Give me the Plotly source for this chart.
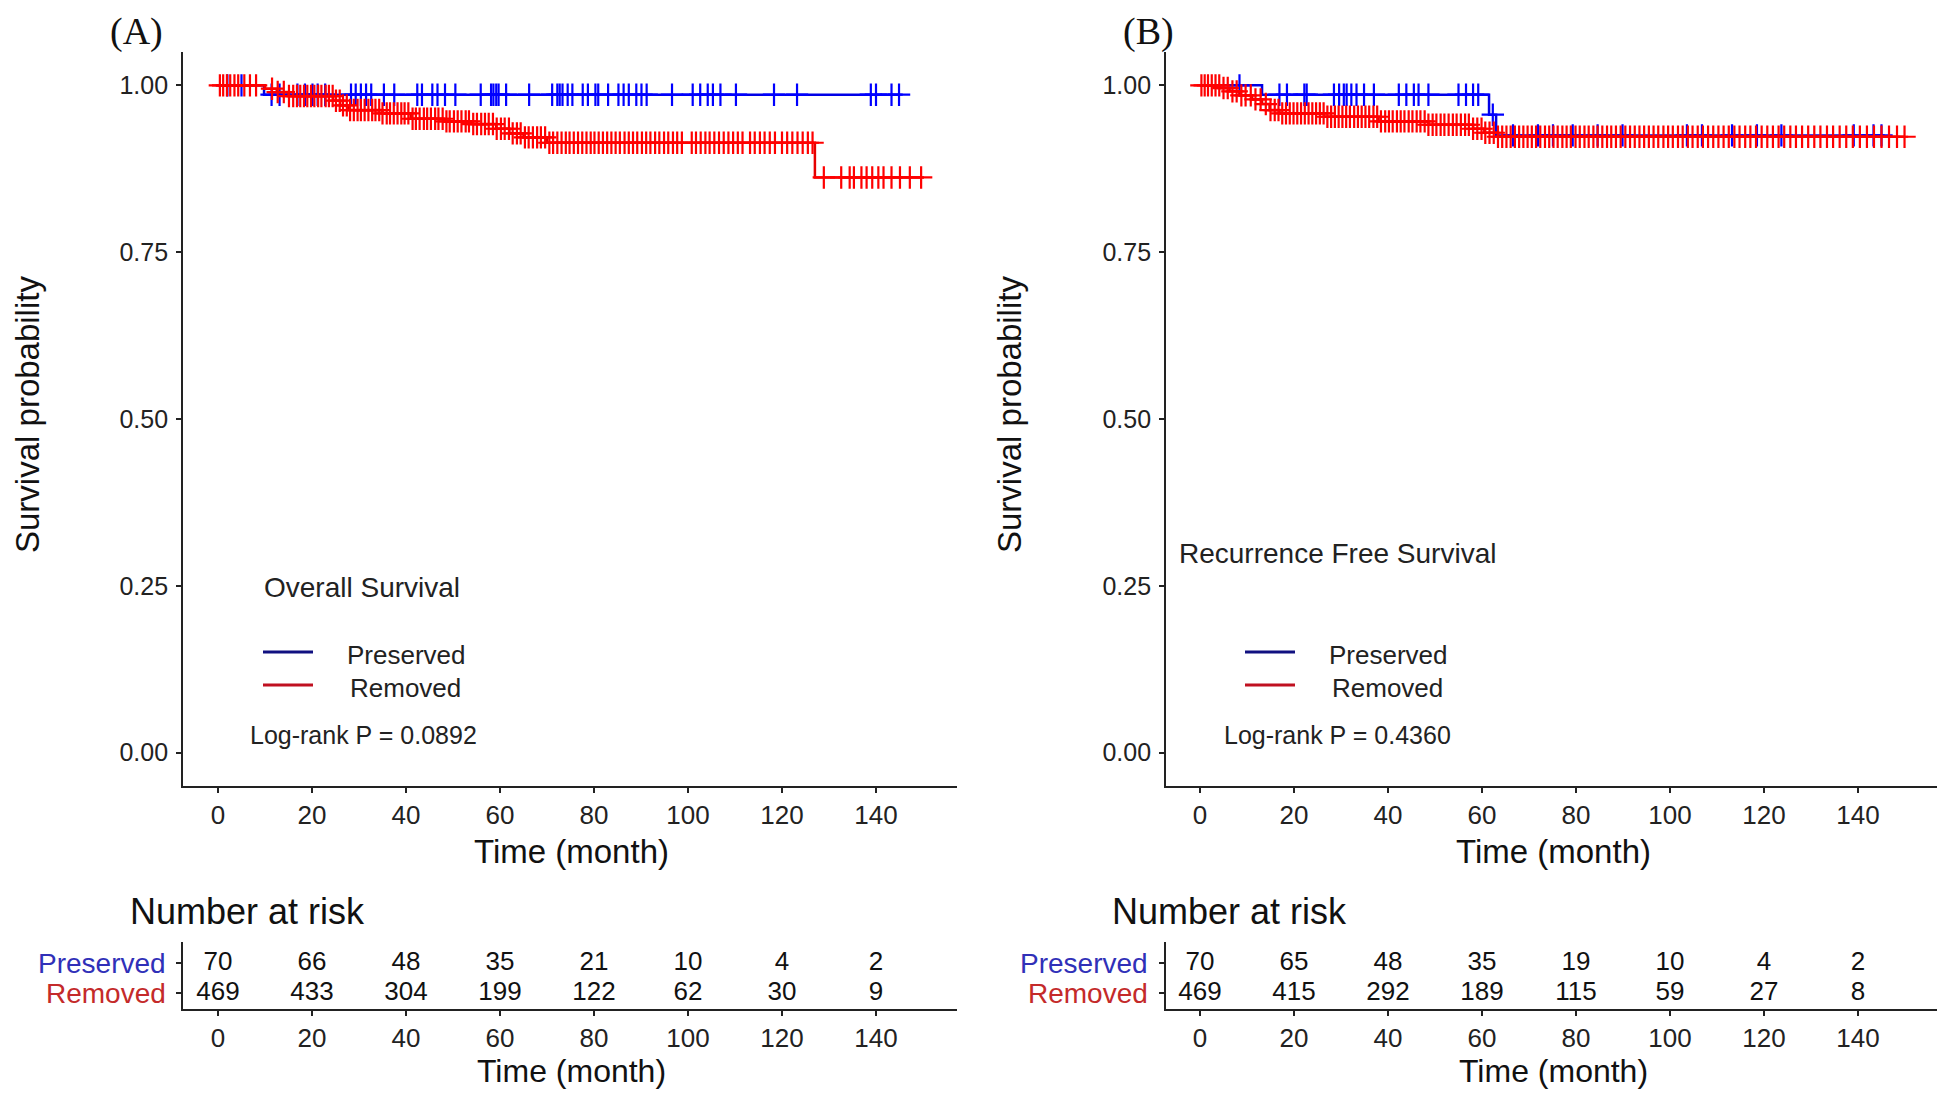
import numpy as np
import plotly.graph_objects as go

W, H = 1946, 1098
FW, FH = W - 16, H - 16   # the page body keeps an 8px margin
FONT = "Liberation Sans, Arial, sans-serif"

# ---------------- data ----------------
time_ticks = [0, 20, 40, 60, 80, 100, 120, 140]
surv_ticks = [0, 0.25, 0.5, 0.75, 1.0]
surv_ticktext = ["0.00", "0.25", "0.50", "0.75", "1.00"]
groups = ["Preserved", "Removed"]

# Panel A - Overall Survival
A_pre_t = [0, 9.8]
A_pre_s = [1.0, 0.986]
A_pre_end = 144.9
A_pre_cens = [2.0, 5.0, 11.4, 13.1, 16.9, 18.5, 20.1, 21.2, 22.8, 28.3, 29.3, 30.4, 31.5,
              32.6, 35.3, 37.5, 42.4, 43.4, 45.6, 46.7, 48.3, 50.5, 55.9, 58.1, 58.6, 59.2,
              59.7, 61.3, 66.2, 71.1, 72.2, 72.7, 73.3, 74.4, 75.4, 77.6, 78.7, 80.3, 80.9,
              83.0, 85.2, 86.3, 87.4, 89.0, 90.1, 91.2, 96.6, 101.0, 102.6, 104.2, 105.3,
              106.9, 110.2, 118.3, 123.2, 138.9, 140.0, 143.3, 144.9]
A_rem_t = [0, 10.0, 12.5, 15.0, 24.5, 26.0, 27.7, 35.0, 41.0, 48.0, 54.0, 59.2, 62.0, 65.0, 70.0, 127.0]
A_rem_s = [1.0, 0.995, 0.990, 0.984, 0.977, 0.970, 0.963, 0.958, 0.950, 0.946, 0.942, 0.935,
           0.928, 0.922, 0.914, 0.862]
A_rem_end = 150.2
A_rem_cens = [0.4, 1.1, 1.9, 2.6, 3.5, 4.3, 5.6, 6.8, 8.1, 11.5, 12.7, 14.0, 15.1, 16.0, 16.8,
              17.5, 18.3, 19.0, 19.8, 20.5, 21.3, 22.0, 22.9, 23.6, 24.4, 25.1, 25.9, 26.6,
              27.4, 28.1, 28.9, 29.7, 30.4, 31.2, 32.0, 32.8, 33.5, 34.3, 35.0, 35.9, 36.6,
              37.4, 38.2, 39.0, 39.7, 40.5, 41.4, 42.1, 42.9, 43.8, 44.5, 45.3, 46.2, 46.9,
              47.8, 48.6, 49.3, 50.2, 51.0, 51.8, 52.7, 53.4, 54.3, 55.1, 56.0, 56.8, 57.6,
              58.5, 59.3, 60.2, 61.0, 61.9, 62.7, 63.6, 64.4, 65.3, 66.1, 67.0, 67.9, 68.7,
              69.6, 70.5, 71.3, 72.2, 73.1, 74.0, 74.8, 75.7, 76.6, 77.5, 78.4, 79.3, 80.1,
              81.0, 81.9, 82.8, 83.7, 84.6, 85.5, 86.5, 87.4, 88.3, 89.2, 90.2, 91.1, 92.0,
              93.0, 93.9, 94.9, 95.8, 96.8, 97.7, 98.7, 100.8, 101.7, 102.7, 103.7, 104.6,
              105.6, 106.6, 107.6, 108.6, 109.6, 110.6, 111.6, 113.2, 114.2, 115.3, 116.3,
              117.4, 118.5, 120.0, 121.1, 122.2, 123.3, 124.4, 125.5, 126.5, 128.9, 132.6,
              134.4, 135.3, 136.9, 138.0, 139.2, 140.5, 141.6, 143.3, 145.1, 147.2, 149.6]
A_risk_pre = [70, 66, 48, 35, 21, 10, 4, 2]
A_risk_rem = [469, 433, 304, 199, 122, 62, 30, 9]
A_title = "Overall Survival"
A_p = "Log-rank P = 0.0892"

# Panel B - Recurrence Free Survival
B_pre_t = [0, 13.2, 61.5, 63.0]
B_pre_s = [1.0, 0.986, 0.956, 0.925]
B_pre_end = 145.0
B_pre_cens = [8.4, 16.9, 18.5, 22.2, 22.7, 28.5, 29.6, 30.6, 31.2, 32.2, 33.3, 34.9, 37.0,
              42.3, 43.9, 45.5, 46.5, 48.6, 55.0, 56.6, 58.1, 59.2, 62.3, 66.6, 71.9, 75.1,
              79.3, 84.6, 89.9, 103.6, 106.8, 113.2, 118.5, 123.7, 139.1, 143.3, 145.0]
B_rem_t = [0, 4.2, 6.3, 8.4, 11.1, 13.2, 14.8, 16.9, 26.4, 38.0, 48.6, 58.1, 60.5, 63.4]
B_rem_s = [1.0, 0.996, 0.991, 0.985, 0.979, 0.972, 0.963, 0.958, 0.953, 0.946, 0.941, 0.935,
           0.929, 0.923]
B_rem_end = 150.0
B_rem_cens = [0.3, 1.0, 1.7, 2.5, 3.3, 4.1, 5.0, 5.9, 6.9, 7.8, 8.8, 9.7, 10.8, 11.8, 12.9,
              14.0, 15.0, 15.9, 16.7, 17.5, 18.3, 19.1, 19.9, 20.7, 21.5, 22.3, 23.1, 23.9,
              24.7, 25.5, 26.3, 27.1, 27.9, 28.7, 29.5, 30.3, 31.1, 31.9, 32.8, 33.6, 34.4,
              35.2, 36.0, 36.9, 37.7, 38.5, 39.4, 40.2, 41.0, 41.9, 42.7, 43.5, 44.4, 45.2,
              46.1, 46.9, 47.8, 48.6, 49.5, 50.3, 51.2, 52.0, 52.9, 53.8, 54.6, 55.5, 56.4,
              57.2, 58.1, 59.0, 59.9, 60.7, 61.6, 62.5, 63.4, 64.3, 65.2, 66.1, 67.0, 67.9,
              68.8, 69.7, 70.6, 71.5, 72.4, 73.4, 74.3, 75.2, 76.1, 77.1, 78.0, 78.9, 79.9,
              80.8, 81.8, 82.7, 83.7, 84.6, 85.6, 86.6, 87.5, 88.5, 89.5, 90.5, 91.5, 92.5,
              93.5, 94.5, 95.5, 96.5, 97.5, 98.6, 99.6, 100.6, 101.7, 102.7, 103.8, 104.8,
              105.9, 107.0, 108.1, 109.2, 110.3, 111.4, 112.5, 113.7, 114.8, 116.0, 117.1,
              118.3, 119.5, 120.7, 121.9, 123.1, 124.3, 125.6, 126.8, 128.1, 129.4, 130.7,
              132.0, 133.4, 134.7, 136.1, 137.5, 138.9, 140.4, 141.9, 143.4, 145.0, 146.6,
              148.3, 149.9]
B_risk_pre = [70, 65, 48, 35, 19, 10, 4, 2]
B_risk_rem = [469, 415, 292, 189, 115, 59, 27, 8]
B_title = "Recurrence Free Survival"
B_p = "Log-rank P = 0.4360"

# ---------------- styling ----------------
BLUE_LINE, BLUE_MARK = "#0000E6", "#0000FF"
RED_LINE, RED_MARK = "#E60000", "#FF0000"
LEG_BLUE, LEG_RED = "#101080", "#C01020"
LAB_BLUE, LAB_RED = "#3030B8", "#C42A2A"


def px(x):
    return min(max((x - 8) / FW, 0.0), 1.0)


def py(y):
    return min(max(1 - (y - 8) / FH, 0.0), 1.0)


def step_at(t_list, s_list, t):
    idx = np.searchsorted(np.array(t_list), np.array(t), side="right") - 1
    return np.array(s_list)[idx]


def note(x, y, text, size, color="#111", xanchor="center", family=FONT, angle=0):
    return dict(x=px(x), y=py(y), xref="paper", yref="paper", text=text, showarrow=False,
                xanchor=xanchor, yanchor="middle", textangle=angle,
                font=dict(family=family, size=size, color=color))


fig = go.Figure()

panels = [
    dict(ax="", pre=(A_pre_t, A_pre_s, A_pre_end, A_pre_cens),
         rem=(A_rem_t, A_rem_s, A_rem_end, A_rem_cens),
         risk=(A_risk_pre, A_risk_rem), x0=183, x1=957, zero=218, title=A_title, p=A_p,
         letter="(A)", letter_x=136, title_pos=(262, 587), leg_x=263, plab_x=345, p_x=248),
    dict(ax="2", pre=(B_pre_t, B_pre_s, B_pre_end, B_pre_cens),
         rem=(B_rem_t, B_rem_s, B_rem_end, B_rem_cens),
         risk=(B_risk_pre, B_risk_rem), x0=1166, x1=1937, zero=1200, title=B_title, p=B_p,
         letter="(B)", letter_x=1148, title_pos=(1177, 553), leg_x=1245, plab_x=1327, p_x=1222),
]

annotations = []
shapes = []
layout_axes = {}

for i, P in enumerate(panels):
    xa = "x" + P["ax"]
    ya = "y" + P["ax"]
    xr = "x" + str(3 + i)
    yr = "y" + str(3 + i)
    for (tt, ss, end, cens), lc, mc in [(P["pre"], BLUE_LINE, BLUE_MARK), (P["rem"], RED_LINE, RED_MARK)]:
        fig.add_trace(go.Scatter(x=list(tt) + [end], y=list(ss) + [ss[-1]], mode="lines",
                                 line=dict(color=lc, width=2.5, shape="hv"),
                                 xaxis=xa, yaxis=ya, showlegend=False, hoverinfo="skip"))
        fig.add_trace(go.Scatter(x=cens, y=step_at(tt, ss, cens), mode="markers",
                                 marker=dict(symbol="cross-thin", size=16, color=mc,
                                             line=dict(color=mc, width=2.2)),
                                 xaxis=xa, yaxis=ya, showlegend=False, hoverinfo="skip"))
    # risk table numbers
    rp, rr = P["risk"]
    fig.add_trace(go.Scatter(x=time_ticks, y=[2] * len(time_ticks), text=[str(v) for v in rp],
                             mode="text", textfont=dict(family=FONT, size=26, color="#111"),
                             xaxis=xr, yaxis=yr, showlegend=False, hoverinfo="skip"))
    fig.add_trace(go.Scatter(x=time_ticks, y=[1] * len(time_ticks), text=[str(v) for v in rr],
                             mode="text", textfont=dict(family=FONT, size=26, color="#111"),
                             xaxis=xr, yaxis=yr, showlegend=False, hoverinfo="skip"))

    dom = [px(P["x0"]), px(P["x1"])]
    rng_lo = (P["x0"] - P["zero"]) / 4.7
    rng_hi = (P["x1"] - P["zero"]) / 4.7
    common_x = dict(domain=dom, range=[rng_lo, rng_hi], tickvals=time_ticks, ticks="outside",
                    ticklen=5, tickwidth=1.5, tickcolor="#222", showline=True, linecolor="#222",
                    linewidth=1.8, showgrid=False, zeroline=False,
                    tickfont=dict(family=FONT, size=26, color="#222"), ticklabelstandoff=0)
    layout_axes["xaxis" + P["ax"]] = dict(common_x, anchor=ya)
    layout_axes["yaxis" + P["ax"]] = dict(domain=[py(786), py(52)], range=[-0.05, 1.05], tickvals=surv_ticks,
                                          ticktext=surv_ticktext, ticks="outside", ticklen=5, tickwidth=1.5,
                                          tickcolor="#222", showline=True, linecolor="#222", linewidth=1.8,
                                          showgrid=False, zeroline=False, anchor=xa,
                                          tickfont=dict(family=FONT, size=25, color="#222"),
                                          ticklabelstandoff=3)
    layout_axes["xaxis" + str(3 + i)] = dict(common_x, anchor=yr)
    layout_axes["yaxis" + str(3 + i)] = dict(domain=[py(1009), py(942)], range=[0.47, 2.7], tickvals=[1, 2],
                                             showticklabels=False, ticks="outside", ticklen=5,
                                             tickwidth=1.5, tickcolor="#222", showline=True,
                                             linecolor="#222", linewidth=1.8, showgrid=False,
                                             zeroline=False, anchor=xr)

    off = P["zero"] - 218
    annotations.append(note(P["letter_x"], 31, P["letter"], 38, "#111",
                            family="Liberation Serif, Times New Roman, serif"))
    annotations.append(note(27 + off, 415, "Survival probability", 33, angle=-90))
    annotations.append(note(571 + off, 851, "Time (month)", 33))
    annotations.append(note(571 + off, 1071, "Time (month)", 32))
    annotations.append(note(128 + off, 911, "Number at risk", 36, xanchor="left"))
    annotations.append(note(168 + off, 963, groups[0], 28, LAB_BLUE, xanchor="right"))
    annotations.append(note(168 + off, 993, groups[1], 28, LAB_RED, xanchor="right"))
    tx, ty = P["title_pos"]
    annotations.append(note(tx, ty, P["title"], 28, "#222", xanchor="left"))
    for j, (lab, col, yy) in enumerate([(groups[0], LEG_BLUE, 652), (groups[1], LEG_RED, 685)]):
        shapes.append(dict(type="line", xref="paper", yref="paper", x0=px(P["leg_x"]), x1=px(P["leg_x"] + 50),
                           y0=py(yy), y1=py(yy), line=dict(color=col, width=3)))
        annotations.append(note(P["plab_x"] + 3 * j, yy + 3, lab, 26, "#222", xanchor="left"))
    annotations.append(note(P["p_x"], 735, P["p"], 25, "#222", xanchor="left"))

fig.update_layout(width=FW, height=FH, margin=dict(l=0, r=0, t=0, b=0), paper_bgcolor="white",
                  plot_bgcolor="white", annotations=annotations, shapes=shapes, showlegend=False,
                  **layout_axes)

fig.write_html("out.html")
